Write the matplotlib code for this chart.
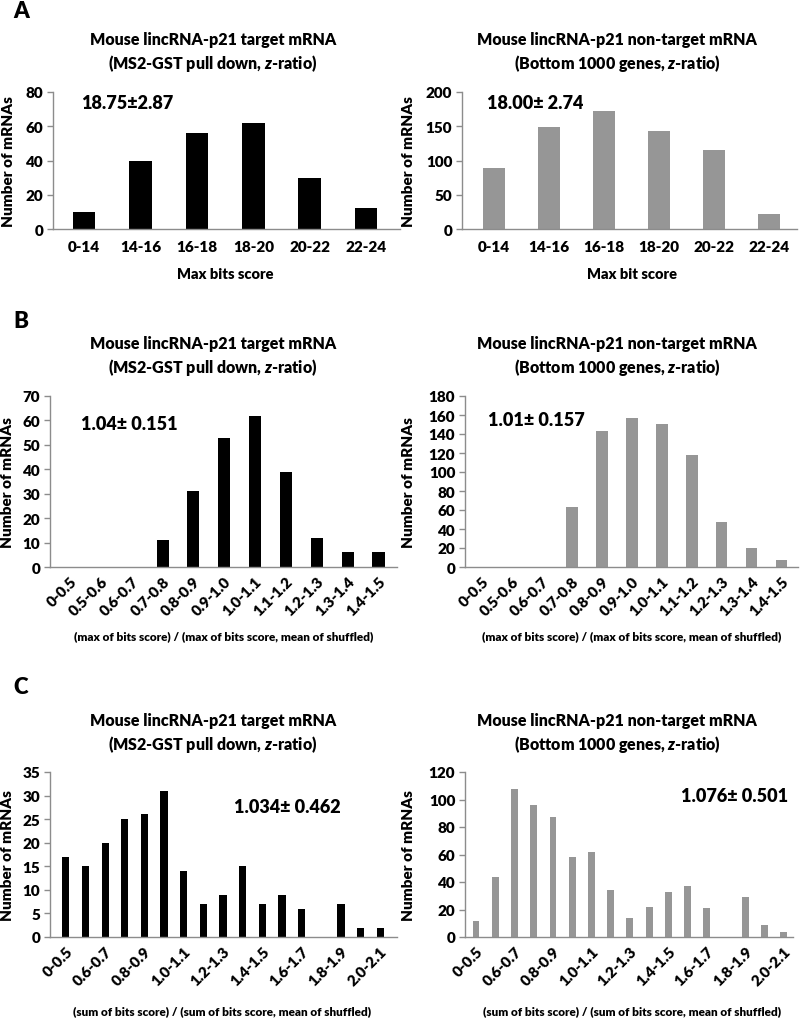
import matplotlib
matplotlib.use("Agg")
import matplotlib.pyplot as plt

BOLD = 'heavy'
plt.rcParams['font.family'] = ['Lato', 'DejaVu Sans']
plt.rcParams['font.weight'] = BOLD
plt.rcParams['mathtext.fontset'] = 'custom'
plt.rcParams['mathtext.it'] = 'Lato:italic:heavy'
plt.rcParams['mathtext.rm'] = 'Lato:heavy'

# panel A
bins_a = ["0-14", "14-16", "16-18", "18-20", "20-22", "22-24"]
a_target = [10, 40, 56, 62, 30, 12]
a_nontarget = [89, 149, 172, 143, 116, 22]

# panel B
bins_b = ["0-0.5", "0.5-0.6", "0.6-0.7", "0.7-0.8", "0.8-0.9", "0.9-1.0",
          "1.0-1.1", "1.1-1.2", "1.2-1.3", "1.3-1.4", "1.4-1.5"]
b_target = [0, 0, 0, 11, 31, 53, 62, 39, 12, 6, 6]
b_nontarget = [0, 0, 0, 63, 143, 157, 151, 118, 47, 20, 7]

# panel C
bins_c = ["0-0.5", "0.5-0.6", "0.6-0.7", "0.7-0.8", "0.8-0.9", "0.9-1.0",
          "1.0-1.1", "1.1-1.2", "1.2-1.3", "1.3-1.4", "1.4-1.5", "1.5-1.6",
          "1.6-1.7", "1.7-1.8", "1.8-1.9", "1.9-2.0", "2.0-2.1"]
c_target = [17, 15, 20, 25, 26, 31, 14, 7, 9, 15, 7, 9, 6, 0, 7, 2, 2]
c_nontarget = [12, 44, 108, 96, 87, 58, 62, 34, 14, 22, 33, 37, 21, 0, 29, 9, 4]

title_target = "Mouse lincRNA-p21 target mRNA\n(MS2-GST pull down, $\\mathit{z}$-ratio)"
title_nontarget = "Mouse lincRNA-p21 non-target mRNA\n(Bottom 1000 genes, $\\mathit{z}$-ratio)"

W, H = 800, 1020
fig = plt.figure(figsize=(8, 10.2), dpi=100)
AXIS_GRAY = "#8c8c8c"


def px_axes(left, right, top, bottom):
    return fig.add_axes([left / W, 1 - bottom / H, (right - left) / W, (bottom - top) / H])


def panel(rect, cats, vals, color, ymax, ystep, xlim, width, rotate, every=1):
    ax = px_axes(*rect)
    x = list(range(len(cats)))
    ax.bar(x, vals, width=width, color=color, zorder=2)
    ax.set_xlim(*xlim)
    ax.set_ylim(0, ymax)
    ax.set_yticks(range(0, ymax + 1, ystep))
    ax.set_xticks(x[::every])
    if rotate:
        ax.set_xticklabels(cats[::every], rotation=45, ha="right", rotation_mode="anchor")
    else:
        ax.set_xticklabels(cats[::every])
    for s in ["top", "right"]:
        ax.spines[s].set_visible(False)
    for s in ["left", "bottom"]:
        ax.spines[s].set_color(AXIS_GRAY)
        ax.spines[s].set_linewidth(1.0)
    ax.tick_params(axis="y", colors=AXIS_GRAY, labelcolor="black", labelsize=11,
                   length=4, width=1, pad=3)
    ax.tick_params(axis="x", length=0, labelsize=11, pad=8 if not rotate else 5)
    for lab in ax.get_xticklabels() + ax.get_yticklabels():
        lab.set_fontweight(BOLD)
    ax.set_ylabel("Number of mRNAs", fontsize=11, fontweight=BOLD)
    # place y label centre at a pixel column
    left = rect[0]
    ax.yaxis.set_label_coords((ylab_x[id(rect)] - left) / (rect[1] - left), 0.5)
    return ax


ylab_x = {}


def title(x, y, text):
    fig.text(x / W, 1 - y / H, text, ha="center", va="center", fontsize=11.5,
             fontweight=BOLD, linespacing=1.35)


def label(x, y, text, size=10.5):
    fig.text(x / W, 1 - y / H, text, ha="center", va="center", fontsize=size, fontweight=BOLD)


def letter(y, text):
    fig.text(13 / W, 1 - y / H, text, fontsize=16, fontweight=BOLD, va="center")


def make(rect, ylx, *args, **kw):
    ylab_x[id(rect)] = ylx
    return panel(rect, *args, **kw)


# A
letter(12, "A")
title(213, 53, title_target)
title(617, 53, title_nontarget)
ax = make((53, 400, 93, 230), 15, bins_a, a_target, "black", 80, 20, (-0.55, 5.6), 0.4, False)
ax.text(0.08, 0.92, "18.75±2.87", transform=ax.transAxes, fontsize=13, fontweight=BOLD, va="center")
label(225, 275, "Max bits score")
ax = make((462, 797, 93, 230), 415, bins_a, a_nontarget, "#969696", 200, 50, (-0.58, 5.5), 0.4, False)
ax.text(0.075, 0.92, "18.00± 2.74", transform=ax.transAxes, fontsize=13, fontweight=BOLD, va="center")
label(632, 275, "Max bit score")

# B
letter(322, "B")
title(213, 357, title_target)
title(617, 357, title_nontarget)
ax = make((50, 397, 397, 568), 14, bins_b, b_target, "black", 70, 10, (-0.65, 10.6), 0.39, True)
ax.text(0.09, 0.84, "1.04± 0.151", transform=ax.transAxes, fontsize=13, fontweight=BOLD, va="center")
label(224, 637, "(max of bits score) / (max of bits score, mean of shuffled)", 8.5)
ax = make((465, 798, 397, 568), 415, bins_b, b_nontarget, "#969696", 180, 20, (-0.57, 10.55), 0.39, True)
ax.text(0.07, 0.86, "1.01± 0.157", transform=ax.transAxes, fontsize=13, fontweight=BOLD, va="center")
label(632, 637, "(max of bits score) / (max of bits score, mean of shuffled)", 8.5)

# C
letter(687, "C")
title(213, 734, title_target)
title(617, 734, title_nontarget)
ax = make((50, 397, 773, 938), 14, bins_c, c_target, "black", 35, 5, (-0.8, 16.85), 0.36, True, every=2)
ax.text(0.53, 0.79, "1.034± 0.462", transform=ax.transAxes, fontsize=13, fontweight=BOLD, va="center")
label(222, 1012, "(sum of bits score) / (sum of bits score, mean of shuffled)", 8.5)
ax = make((465, 793, 773, 938), 415, bins_c, c_nontarget, "#969696", 120, 20, (-0.57, 16.47), 0.36, True, every=2)
ax.text(0.66, 0.86, "1.076± 0.501", transform=ax.transAxes, fontsize=13, fontweight=BOLD, va="center")
label(632, 1012, "(sum of bits score) / (sum of bits score, mean of shuffled)", 8.5)

fig.savefig("out.png", dpi=100)
